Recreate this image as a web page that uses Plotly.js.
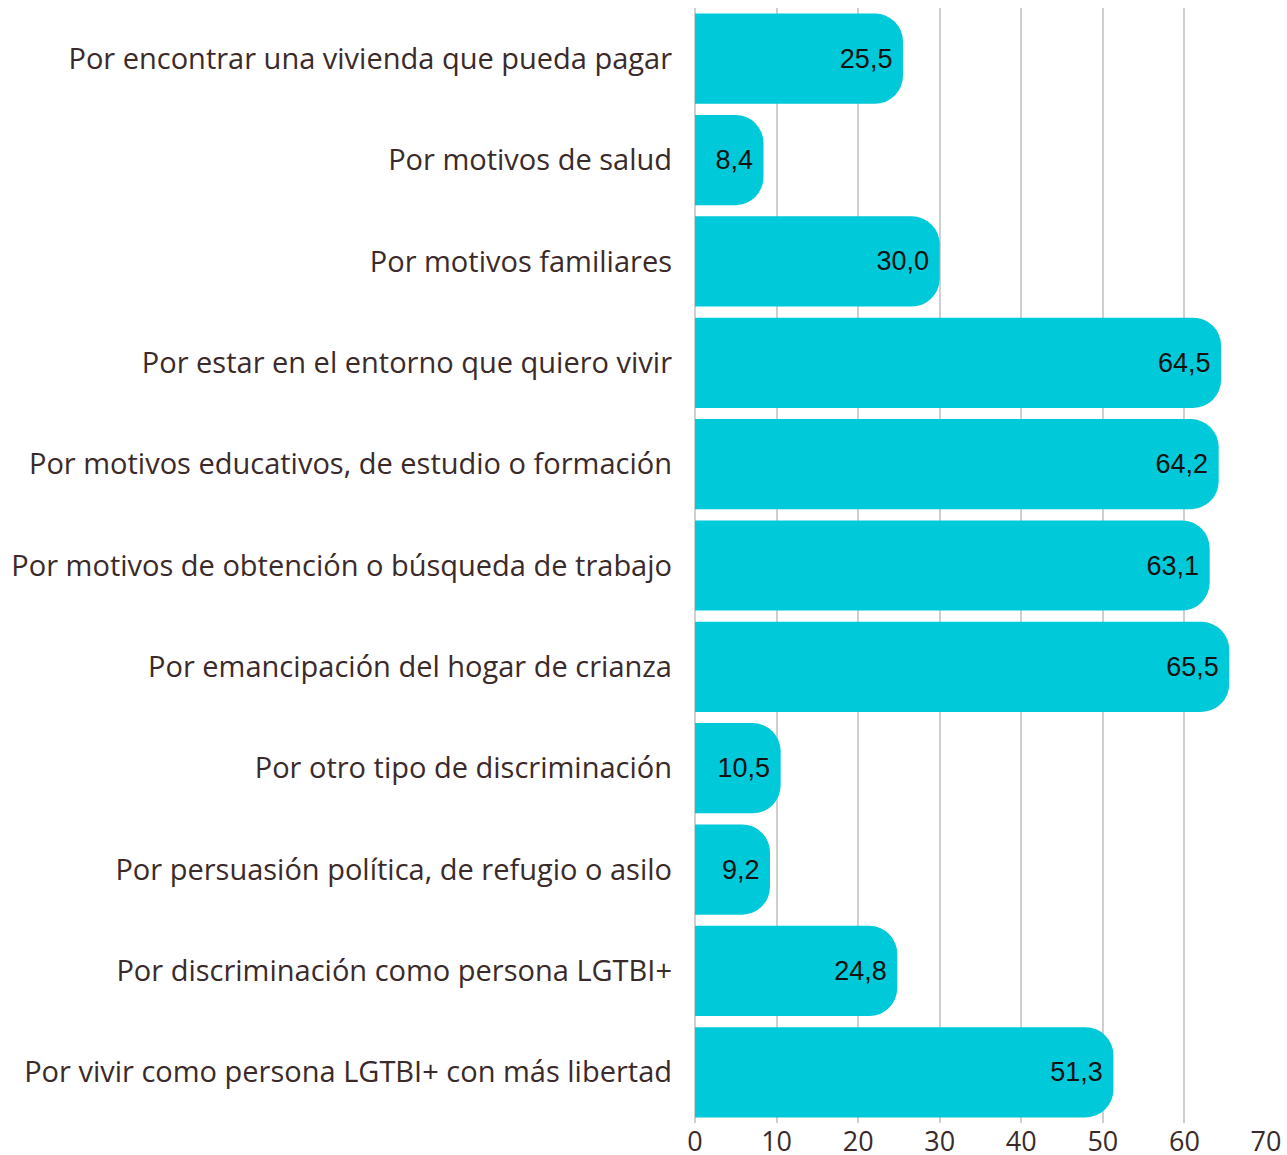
<!DOCTYPE html>
<html>
<head>
<meta charset="utf-8">
<script src="https://cdn.plot.ly/plotly-3.0.1.min.js"></script>
<style>html,body{margin:0;padding:0;background:#fff;}#chart{width:1287px;height:1155px;}</style>
</head>
<body>
<div id="chart"></div>
<script>
const categories = [
  "Por encontrar una vivienda que pueda pagar",
  "Por motivos de salud",
  "Por motivos familiares",
  "Por estar en el entorno que quiero vivir",
  "Por motivos educativos, de estudio o formación",
  "Por motivos de obtención o búsqueda de trabajo",
  "Por emancipación del hogar de crianza",
  "Por otro tipo de discriminación",
  "Por persuasión política, de refugio o asilo",
  "Por discriminación como persona LGTBI+",
  "Por vivir como persona LGTBI+ con más libertad"
];
const values = [25.5, 8.4, 30.0, 64.5, 64.2, 63.1, 65.5, 10.5, 9.2, 24.8, 51.3];
const tickValues = [0, 10, 20, 30, 40, 50, 60, 70];

const labels = values.map(v => v.toFixed(1).replace('.', ',') + '\u00A0');

const trace = {
  type: 'bar',
  orientation: 'h',
  x: values,
  y: categories,
  text: labels,
  textposition: 'inside',
  insidetextanchor: 'end',
  textangle: 0,
  constraintext: 'none',
  textfont: {family: 'Liberation Sans, Arial, sans-serif', size: 27, color: '#111111'},
  marker: {color: '#00C9D9', line: {width: 0}},
  hoverinfo: 'none',
  cliponaxis: false
};

const layout = {
  width: 1287,
  height: 1155,
  margin: {l: 695, r: 21, t: 8, b: 32},
  paper_bgcolor: '#ffffff',
  plot_bgcolor: '#ffffff',
  bargap: 0.11,
  barcornerradius: 28,
  showlegend: false,
  font: {family: 'Open Sans, sans-serif', color: '#3B2A2A'},
  xaxis: {
    range: [0, 70],
    tickvals: tickValues,
    ticktext: tickValues.map(String),
    showgrid: true,
    gridcolor: '#CFCFCF',
    gridwidth: 2,
    zeroline: true,
    zerolinecolor: '#CFCFCF',
    zerolinewidth: 2,
    showline: false,
    ticks: '',
    tickfont: {family: 'Open Sans, sans-serif', size: 27, color: '#3B2A2A'},
    fixedrange: true
  },
  yaxis: {
    type: 'category',
    categoryorder: 'array',
    categoryarray: categories,
    autorange: 'reversed',
    showgrid: false,
    zeroline: false,
    showline: false,
    ticks: '',
    ticklabelstandoff: 22,
    tickfont: {family: 'Open Sans, sans-serif', size: 29, color: '#3B2A2A'},
    fixedrange: true
  }
};

Plotly.newPlot('chart', [trace], layout, {displayModeBar: false, staticPlot: true});
</script>
</body>
</html>
